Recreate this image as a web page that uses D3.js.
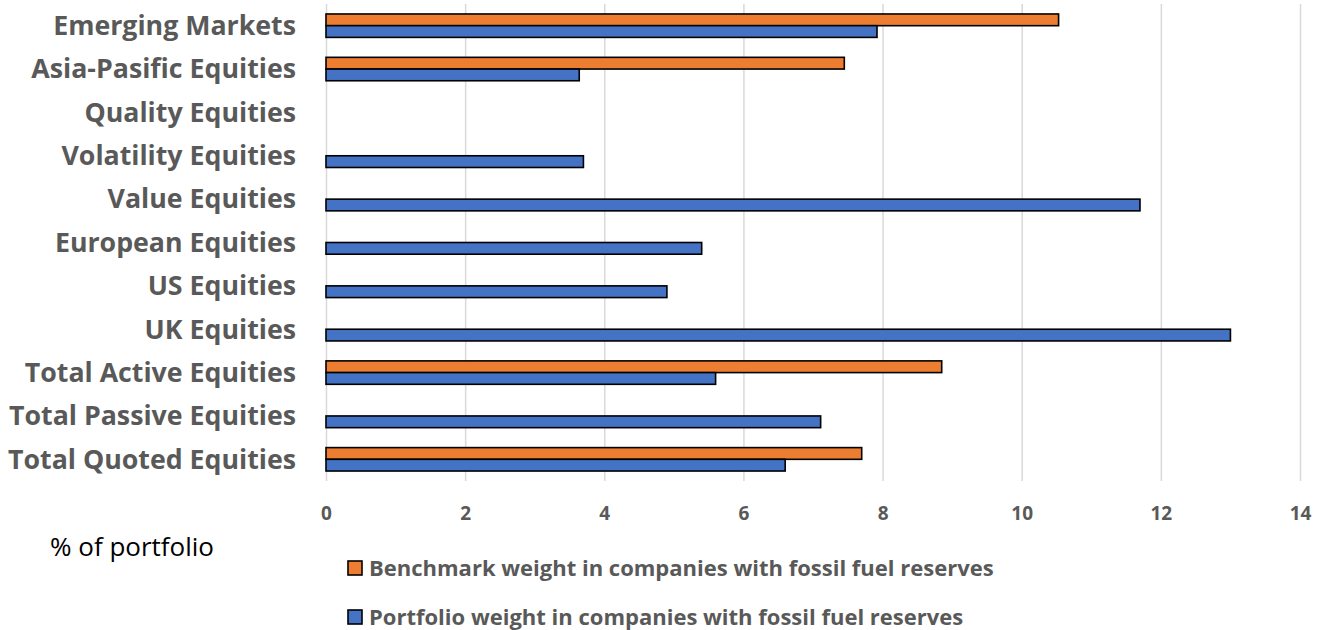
<!DOCTYPE html>
<html>
<head>
<meta charset="utf-8">
<script src="https://cdn.jsdelivr.net/npm/d3@7"></script>
<style>
  body { margin: 0; background: #fff; }
  text { font-family: "Open Sans", sans-serif; }
</style>
</head>
<body>
<script>
const W = 1327,
  H = 630;

const categories = [
  "Emerging Markets",
  "Asia-Pasific Equities",
  "Quality Equities",
  "Volatility Equities",
  "Value Equities",
  "European Equities",
  "US Equities",
  "UK Equities",
  "Total Active Equities",
  "Total Passive Equities",
  "Total Quoted Equities"
];
// null = no bar drawn
const benchmark = [10.53, 7.45, null, null, null, null, null, null, 8.85, null, 7.7];
const portfolio = [7.92, 3.64, null, 3.7, 11.7, 5.4, 4.9, 13.0, 5.6, 7.11, 6.6];
const xTicks = [0, 2, 4, 6, 8, 10, 12, 14];
const seriesNames = [
  "Benchmark weight in companies with fossil fuel reserves",
  "Portfolio weight in companies with fossil fuel reserves"
];
const seriesColors = ["#ED7D31", "#4472C4"];

const plotTop = 4,
  plotBottom = 481,
  plotLeft = 326,
  plotRight = 1300;

const x = d3.scaleLinear().domain([0, 14]).range([plotLeft, plotRight]);
const y = d3
  .scaleBand()
  .domain(categories)
  .range([plotTop, plotBottom])
  .paddingInner(0.46)
  .paddingOuter(0.23);
const ySub = d3
  .scaleBand()
  .domain([0, 1])
  .range([0, y.bandwidth()]);

const svg = d3
  .select("body")
  .append("svg")
  .attr("width", W)
  .attr("height", H);

// gridlines + tick labels
const axis = svg
  .append("g")
  .attr("transform", "translate(0," + plotBottom + ")")
  .call(
    d3
      .axisBottom(x)
      .tickValues(xTicks)
      .tickSize(-(plotBottom - plotTop))
      .tickFormat(d3.format("d"))
  );
axis.select(".domain").remove();
axis.selectAll(".tick line").attr("stroke", "#d9d9d9").attr("stroke-width", 1.5);
axis
  .selectAll(".tick text")
  .attr("y", 39)
  .attr("dy", null)
  .attr("fill", "#595959")
  .style("font-size", "19px")
  .style("font-weight", "bold");

// bars
const rows = categories.map((c, i) => ({ cat: c, vals: [benchmark[i], portfolio[i]] }));
const groups = svg
  .append("g")
  .selectAll("g")
  .data(rows)
  .enter()
  .append("g")
  .attr("transform", d => "translate(0," + y(d.cat) + ")");

groups
  .selectAll("rect")
  .data(d => d.vals.map((v, k) => ({ v: v, k: k })).filter(e => e.v != null))
  .enter()
  .append("rect")
  .attr("x", x(0))
  .attr("y", d => ySub(d.k))
  .attr("width", d => x(d.v) - x(0))
  .attr("height", ySub.bandwidth())
  .attr("fill", d => seriesColors[d.k])
  .attr("stroke", "#000")
  .attr("stroke-width", 1.6);

// category labels
const labels = svg
  .append("g")
  .selectAll("text")
  .data(categories)
  .enter()
  .append("text")
  .attr("x", 296)
  .attr("y", d => y(d) + y.bandwidth() / 2)
  .attr("dy", "0.36em")
  .attr("text-anchor", "end")
  .attr("fill", "#595959")
  .style("font-size", "26px")
  .style("font-weight", "bold")
  .text(d => d);

// stretch/squeeze so the longest label spans the same width as the original
let longest = 0;
labels.each(function() {
  longest = Math.max(longest, this.getComputedTextLength());
});
function narrow(sel, k) {
  sel.each(function() {
    const w = this.getComputedTextLength();
    d3.select(this)
      .attr("textLength", w * k)
      .attr("lengthAdjust", "spacingAndGlyphs");
  });
}
narrow(labels, 288 / longest);

// axis caption
svg
  .append("text")
  .attr("x", 50)
  .attr("y", 556)
  .attr("fill", "#000")
  .style("font-size", "25px")
  .text("% of portfolio")
  .call(narrow, 1.04);

// legend
const legend = svg
  .append("g")
  .selectAll("g")
  .data(seriesNames)
  .enter()
  .append("g")
  .attr("transform", (d, i) => "translate(348," + (561 + i * 49) + ")");

legend
  .append("rect")
  .attr("width", 14)
  .attr("height", 14)
  .attr("fill", (d, i) => seriesColors[i])
  .attr("stroke", "#000")
  .attr("stroke-width", 1.6);

legend
  .append("text")
  .attr("x", 21)
  .attr("y", 7)
  .attr("dy", "0.36em")
  .attr("fill", "#595959")
  .style("font-size", "22px")
  .style("font-weight", "bold")
  .text(d => d)
  .call(narrow, 1.0);
</script>
</body>
</html>
